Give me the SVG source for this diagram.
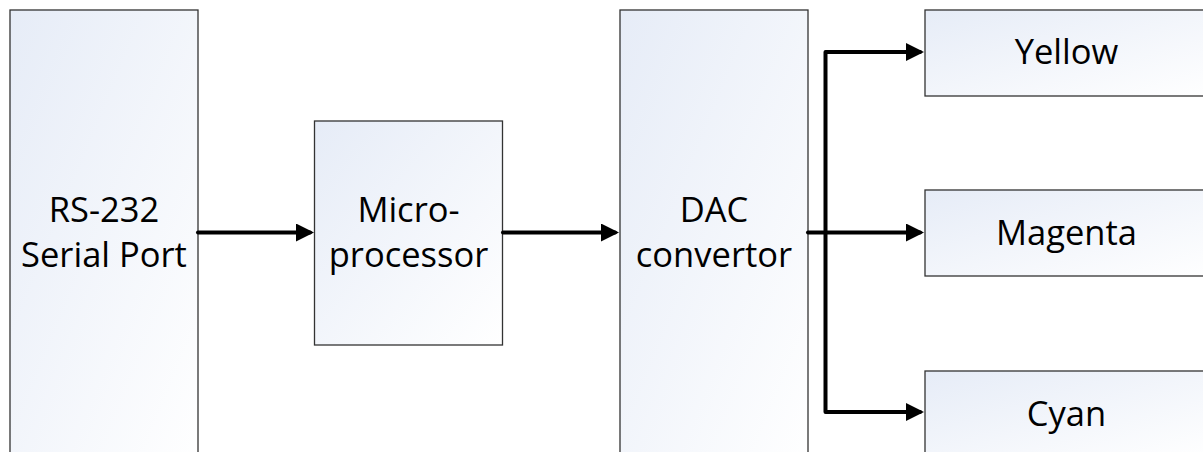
<svg xmlns="http://www.w3.org/2000/svg" width="1203" height="452" viewBox="0 0 1203 452">
<style>
.box{fill:url(#g);stroke:#333;stroke-width:1.3}
.t{font-family:"Open Sans","Liberation Sans",sans-serif;font-size:34.5px;fill:#000;text-anchor:middle}
.c{fill:none;stroke:#000;stroke-width:4;stroke-linecap:round;stroke-linejoin:round}
</style>
<defs>
<linearGradient id="g" x1="0" y1="0" x2="1" y2="1">
<stop offset="0" stop-color="#e6ecf7"/>
<stop offset="1" stop-color="#ffffff"/>
</linearGradient>
<marker id="a" markerWidth="4.5" markerHeight="4.5" refX="3.5" refY="2.25" orient="auto" markerUnits="strokeWidth" viewBox="0 0 4.5 4.5">
<path d="M0,0 L4.5,2.25 L0,4.5 Z" fill="#000"/>
</marker>
</defs>
<g id="rs232"><rect class="box" x="10" y="10" width="188" height="460"/><text class="t" x="104" y="222">RS-232</text><text class="t" x="104" y="267">Serial Port</text></g>
<g id="micro"><rect class="box" x="314.5" y="121" width="188" height="224"/><text class="t" x="408.5" y="222">Micro-</text><text class="t" x="408.5" y="267">processor</text></g>
<g id="dac"><rect class="box" x="620" y="10" width="188" height="460"/><text class="t" x="714" y="222">DAC</text><text class="t" x="714" y="267">convertor</text></g>
<g id="yellow"><rect class="box" x="925" y="10" width="290" height="86"/><text class="t" x="1066.5" y="64">Yellow</text></g>
<g id="magenta"><rect class="box" x="925" y="190" width="290" height="86"/><text class="t" x="1066.5" y="245">Magenta</text></g>
<g id="cyan"><rect class="box" x="925" y="371" width="290" height="86"/><text class="t" x="1066.5" y="426">Cyan</text></g>
<g id="connectors">
<path class="c" d="M198,232.5 H310" marker-end="url(#a)"/>
<path class="c" d="M503,232.5 H615" marker-end="url(#a)"/>
<path class="c" d="M808,232.5 H920" marker-end="url(#a)"/>
<path class="c" d="M825.5,232.5 V52 H920" marker-end="url(#a)"/>
<path class="c" d="M825.5,232.5 V412 H920" marker-end="url(#a)"/>
</g>
</svg>
